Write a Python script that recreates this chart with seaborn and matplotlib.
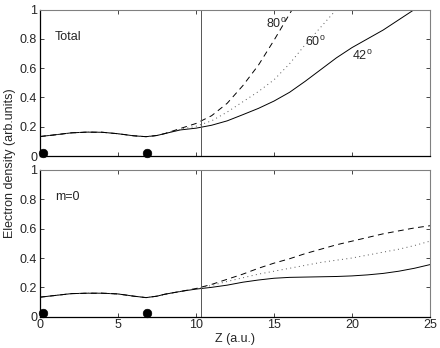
import numpy as np
import pandas as pd
import matplotlib
matplotlib.use("Agg")
import matplotlib.pyplot as plt
import seaborn as sns

# common part of the curves (all angles coincide for small z)
z_base = [0, 1, 2, 3, 4, 5, 6, 6.8, 7.5, 8]
total_base = [0.133, 0.145, 0.158, 0.163, 0.162, 0.152, 0.138, 0.132, 0.14, 0.153]
m0_base = [0.133, 0.145, 0.157, 0.16, 0.16, 0.155, 0.14, 0.13, 0.14, 0.153]

# outer region, one value per angle
z_out = [9, 10, 11, 12, 13, 14, 15, 16, 17, 18, 19, 20, 21, 22, 23, 24, 25]
total_42 = [0.178, 0.19, 0.21, 0.24, 0.282, 0.325, 0.375, 0.435, 0.51, 0.59, 0.67, 0.74, 0.80, 0.86, 0.93, 1.0, 1.07]
total_60 = [0.182, 0.203, 0.24, 0.30, 0.37, 0.44, 0.52, 0.63, 0.76, 0.88, 1.0, 1.12, 1.25, 1.4, 1.55, 1.7, 1.85]
total_80 = [0.188, 0.222, 0.275, 0.36, 0.48, 0.62, 0.79, 0.97, 1.15, 1.35, 1.55, 1.75, 1.95, 2.15, 2.35, 2.55, 2.75]
m0_42 = [0.172, 0.188, 0.20, 0.215, 0.235, 0.25, 0.262, 0.268, 0.27, 0.272, 0.274, 0.278, 0.285, 0.295, 0.31, 0.33, 0.355]
m0_60 = [0.172, 0.19, 0.213, 0.24, 0.265, 0.29, 0.31, 0.33, 0.35, 0.37, 0.385, 0.40, 0.42, 0.44, 0.46, 0.485, 0.515]
m0_80 = [0.172, 0.192, 0.22, 0.255, 0.29, 0.33, 0.365, 0.395, 0.43, 0.46, 0.49, 0.515, 0.54, 0.565, 0.585, 0.605, 0.62]

angles = ["42", "60", "80"]
dash_patterns = {"42": None, "60": [1, 3.5], "80": [6, 4.5]}
atom_z = [0.17, 6.88]
atom_y = [0.023, 0.023]
z_boundary = 10.3
tick_z = [0, 5, 10, 15, 20, 25]
tick_y = [0, 0.2, 0.4, 0.6, 0.8, 1]
tick_y_labels = ["0", "0.2", "0.4", "0.6", "0.8", "1"]

sns.set_style("ticks")
plt.rcParams["font.family"] = ["Liberation Sans", "DejaVu Sans"]
plt.rcParams["font.size"] = 9
plt.rcParams["mathtext.fontset"] = "custom"
plt.rcParams["mathtext.rm"] = "Liberation Sans"
plt.rcParams["xtick.direction"] = "in"
plt.rcParams["ytick.direction"] = "in"


def make_frame(base, outs):
    rows = []
    for ang, vals in zip(angles, outs):
        for z, v in zip(z_base, base):
            rows.append((z, v, ang))
        for z, v in zip(z_out, vals):
            rows.append((z, v, ang))
    return pd.DataFrame(rows, columns=["z", "rho", "angle"])


fig = plt.figure(figsize=(4.4, 3.48), dpi=100)
ax1 = fig.add_axes([0.0909, 0.5517, 0.8864, 0.421])
ax2 = fig.add_axes([0.0909, 0.09, 0.8864, 0.4215])

panels = [(ax1, make_frame(total_base, [total_42, total_60, total_80]), "Total"),
          (ax2, make_frame(m0_base, [m0_42, m0_60, m0_80]), "m=0")]

for ax, df, name in panels:
    sns.lineplot(data=df, x="z", y="rho", style="angle", dashes=False, ax=ax,
                 color="black", linewidth=0.7, legend=False, estimator=None, sort=False)
    for line, ang in zip(ax.get_lines(), angles):
        if dash_patterns[ang] is not None:
            line.set_dashes(dash_patterns[ang])
        if ang == "60":
            line.set_color("#555555")
    ax.axvline(z_boundary, color="#555555", linewidth=0.7)
    sns.scatterplot(x=atom_z, y=atom_y, ax=ax, color="black", s=38,
                    edgecolor="black", clip_on=False, zorder=5)
    ax.set_xlim(0, 25)
    ax.set_ylim(0, 1)
    ax.set_xticks(tick_z)
    ax.set_yticks(tick_y)
    ax.set_yticklabels(tick_y_labels)
    ax.tick_params(top=True, right=True, length=3, width=0.6, labelsize=9, pad=2)
    for side in ["top", "right"]:
        ax.spines[side].set_color("#808080")
        ax.spines[side].set_linewidth(0.8)
    for side in ["left", "bottom"]:
        ax.spines[side].set_color("black")
        ax.spines[side].set_linewidth(0.9)
    ax.set_xlabel("")
    ax.set_ylabel("")
    ax.text(0.96, 0.795, name, fontsize=9)

ax1.set_xticklabels([])
ax2.set_xlabel("Z (a.u.)", fontsize=9, labelpad=1)

ax1.text(14.47, 0.90, "80$^{\\rm o}$", fontsize=9, va="center")
ax1.text(17.0, 0.78, "60$^{\\rm o}$", fontsize=9, va="center")
ax1.text(19.98, 0.685, "42$^{\\rm o}$", fontsize=9, va="center")

fig.text(0.022, 0.53, "Electron density (arb.units)", rotation=90,
         va="center", ha="center", fontsize=9)

fig.savefig("out.png", dpi=100)
